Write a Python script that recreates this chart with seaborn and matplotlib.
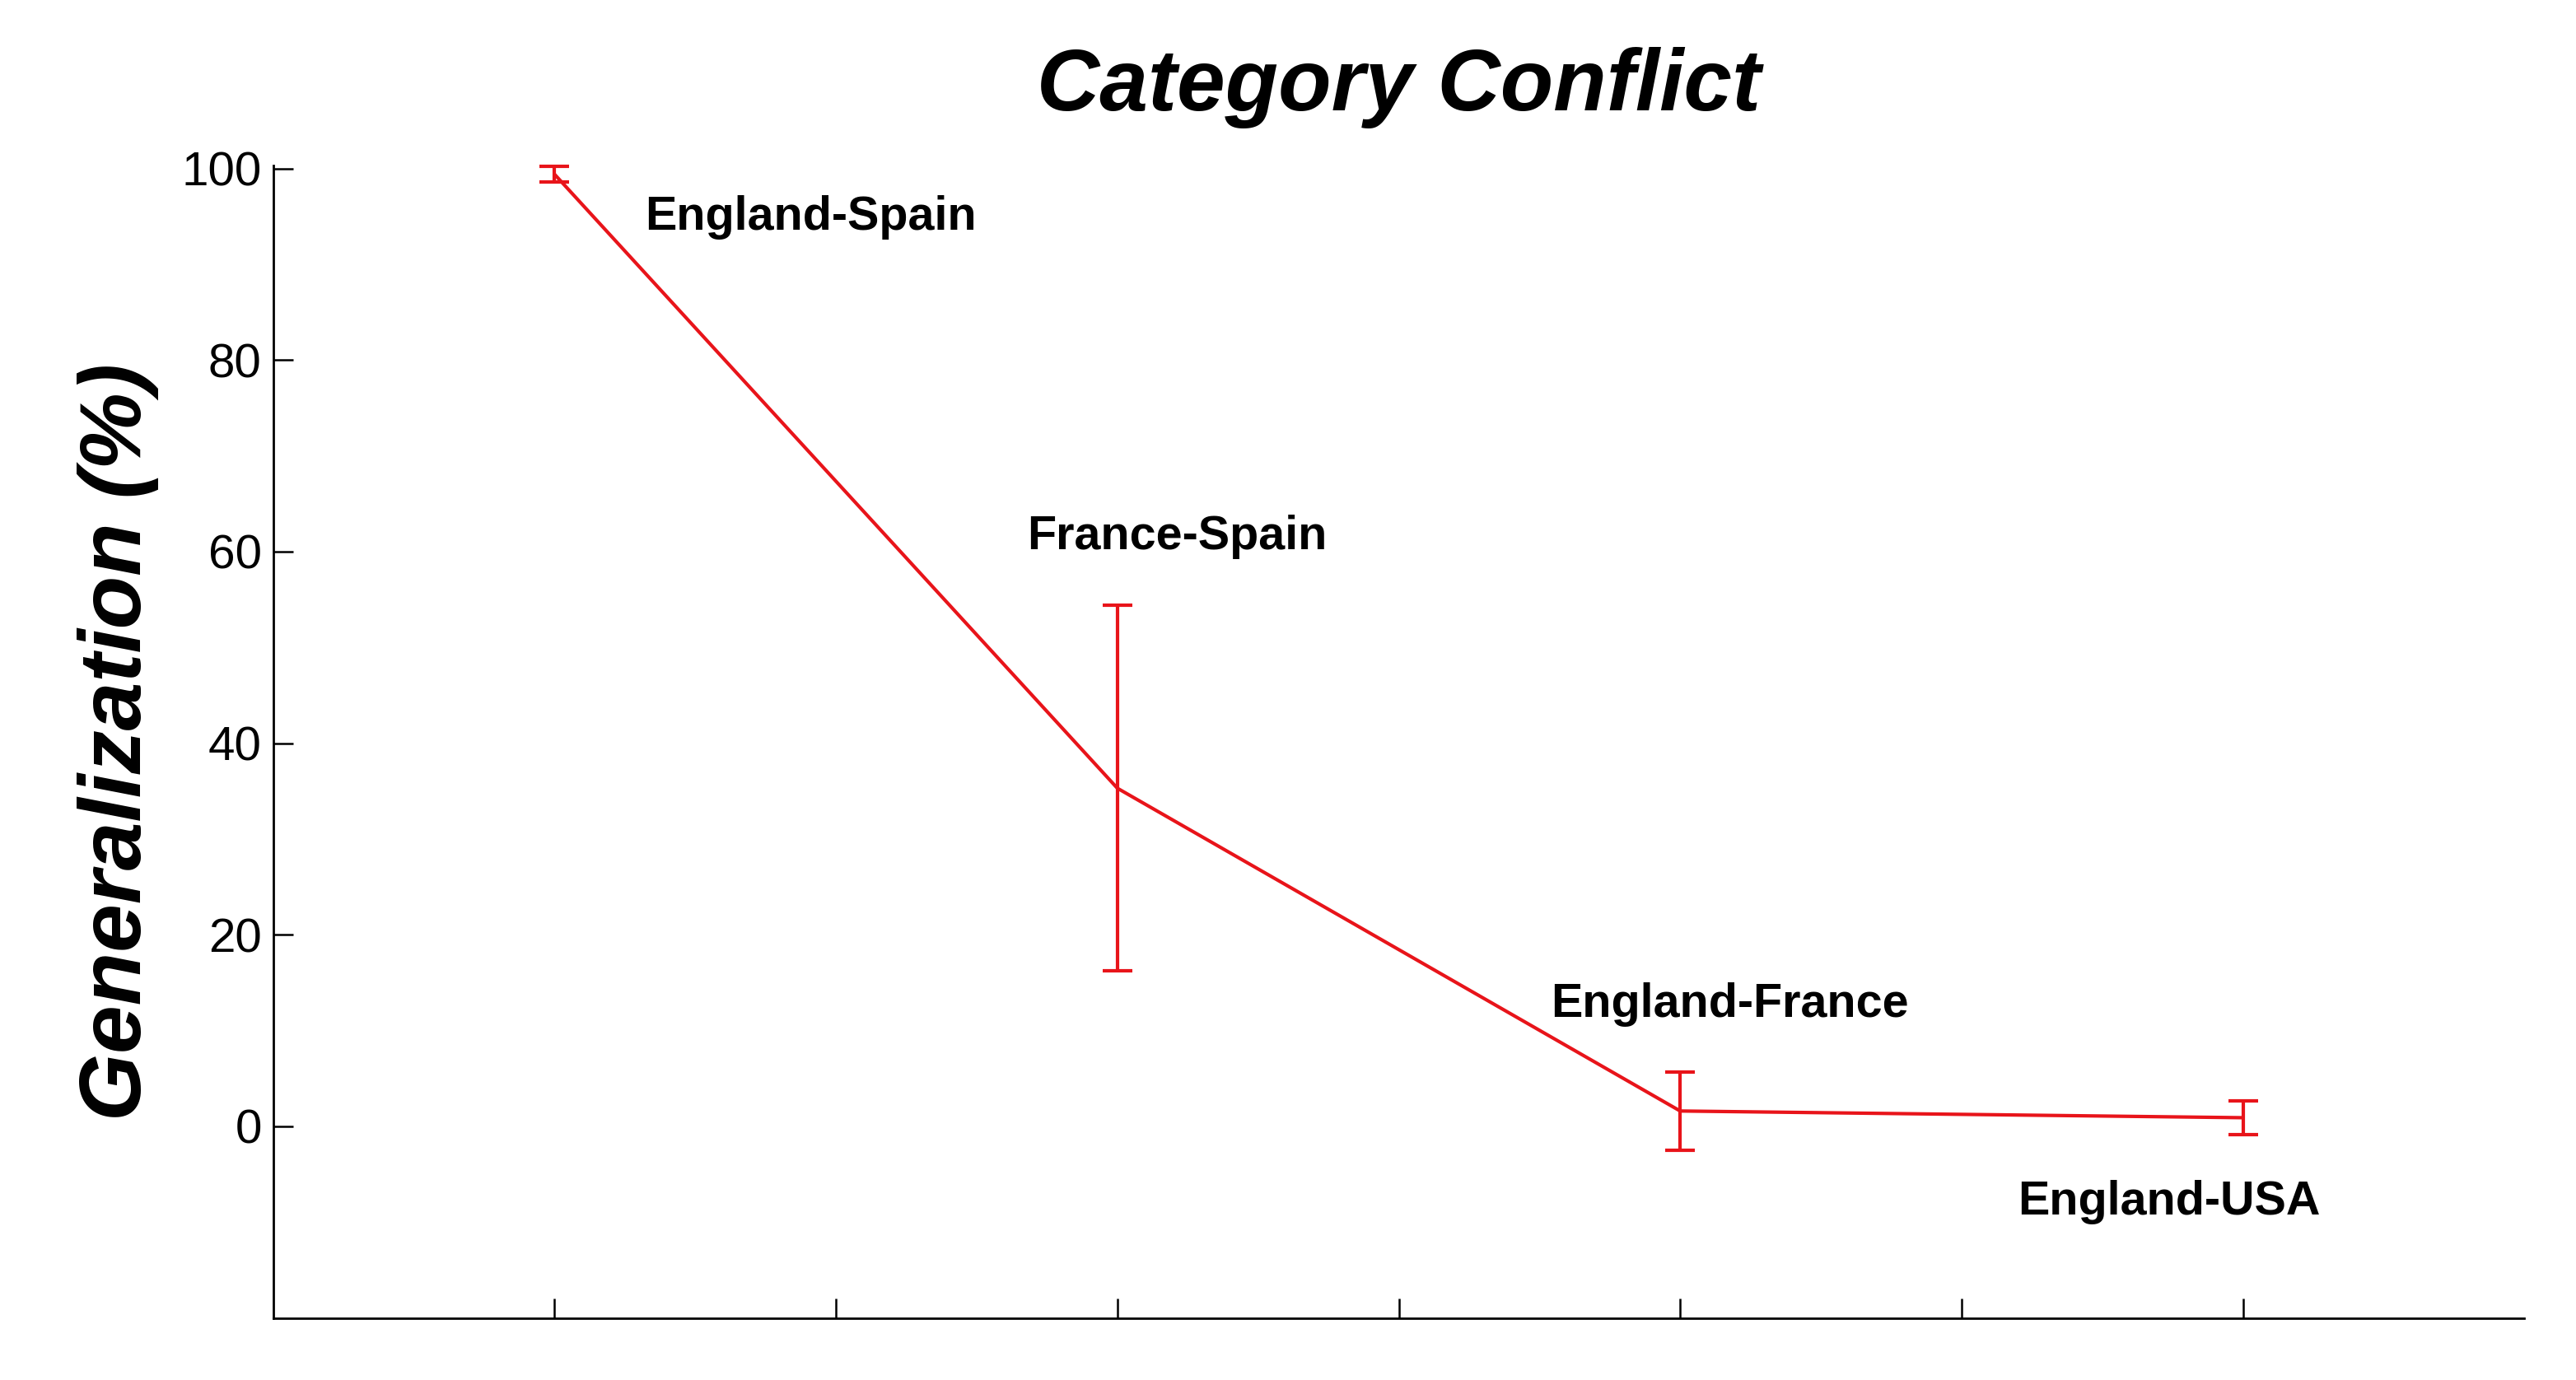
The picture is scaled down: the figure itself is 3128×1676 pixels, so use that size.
import matplotlib
matplotlib.use("Agg")
import matplotlib.pyplot as plt
import seaborn as sns
import pandas as pd

# data
pairs = ["England-Spain", "France-Spain", "England-France", "England-USA"]
positions = [1, 2, 3, 4]
generalization = [99.4, 35.3, 1.6, 0.9]
error = [0.8, 19.1, 4.1, 1.8]
y_ticks = [0, 20, 40, 60, 80, 100]
x_ticks = [1, 1.5, 2, 2.5, 3, 3.5, 4]

# label placement (layout only)
label_x = [1.16, 1.84, 2.77, 3.60]
label_y = [94.9, 61.5, 12.7, -7.9]

sns.set_theme(style="white")
plt.rcParams["font.family"] = ["Liberation Sans", "DejaVu Sans"]
plt.rcParams["text.color"] = "black"
plt.rcParams["axes.labelcolor"] = "black"
plt.rcParams["xtick.color"] = "black"
plt.rcParams["ytick.color"] = "black"

df = pd.DataFrame({"pos": positions, "gen": generalization, "err": error, "pair": pairs})

fig = plt.figure(figsize=(15.64, 8.38), dpi=200)
ax = fig.add_axes([0.106, 0.045, 0.874, 0.835])

red = "#e8141a"
sns.lineplot(data=df, x="pos", y="gen", ax=ax, color=red, linewidth=1.5, legend=False)
ax.errorbar(df["pos"], df["gen"], yerr=df["err"], fmt="none", ecolor=red,
            elinewidth=1.5, capsize=6.5, capthick=1.5, clip_on=False)

for name, lx, ly in zip(pairs, label_x, label_y):
    ax.text(lx, ly, name, fontsize=20.7, fontweight="bold", va="center", ha="left", color="black")

ax.set_xlim(0.5, 4.5)
ax.set_ylim(-20, 100.3)
ax.set_xticks(x_ticks)
ax.set_xticklabels([])
ax.set_yticks(y_ticks)
ax.set_yticklabels([str(t) for t in y_ticks], fontsize=21)
ax.tick_params(axis="both", direction="in", length=8.5, width=0.9, color="black",
               labelcolor="black", left=True, bottom=True, pad=5)
ax.set_xlabel("")
ax.set_ylabel("Generalization (%)", fontsize=38, fontweight="bold", fontstyle="italic",
              labelpad=10, color="black")
ax.set_title("Category Conflict", fontsize=38, fontweight="bold", fontstyle="italic", pad=24,
             color="black")

for s in ["top", "right"]:
    ax.spines[s].set_visible(False)
for s in ["left", "bottom"]:
    ax.spines[s].set_color("black")
    ax.spines[s].set_linewidth(1.0)

fig.savefig("out.png", dpi=200, facecolor="white")
